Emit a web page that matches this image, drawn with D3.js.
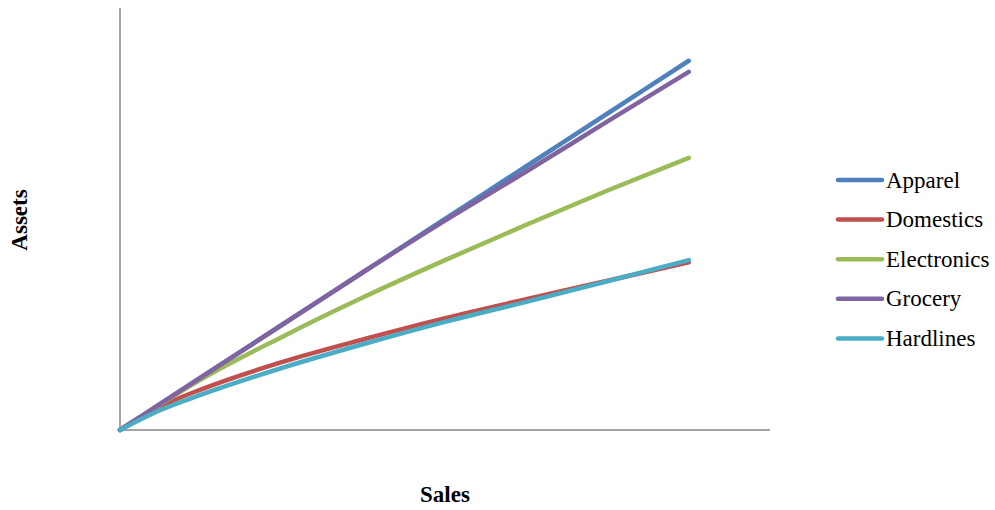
<!DOCTYPE html>
<html>
<head>
<meta charset="utf-8">
<script src="https://cdn.jsdelivr.net/npm/d3@7"></script>
<style>
  body { margin: 0; background: #fff; }
  text { font-family: "Liberation Serif", "Times New Roman", serif; }
</style>
</head>
<body>
<svg id="chart" width="995" height="510"></svg>
<script>
// Sales values (x) shared by every series
const sales = [0, 0.5, 1, 2, 3, 4, 5, 6, 7];
// Asset values per series
const seriesNames = ["Apparel", "Domestics", "Electronics", "Grocery", "Hardlines"];
const apparel = [0, 0.5, 1.0, 2.0, 3.0, 4.0, 5.0, 6.0, 7.0];
const domestics = [0, 0.45, 0.77, 1.29, 1.72, 2.12, 2.48, 2.83, 3.18];
const electronics = [0, 0.49, 0.96, 1.77, 2.52, 3.22, 3.89, 4.54, 5.16];
const grocery = [0, 0.5, 1.0, 2.0, 3.0, 3.97, 4.9, 5.85, 6.79];
const hardlines = [0, 0.38, 0.67, 1.18, 1.63, 2.05, 2.43, 2.82, 3.22];
const colors = ["#4f81bd", "#c0504d", "#9bbb59", "#8064a2", "#4bacc6"];

const values = [apparel, domestics, electronics, grocery, hardlines];

const svg = d3.select("#chart");

// plot area
const x = d3.scaleLinear().domain([0, 8]).range([120, 770]);
const y = d3.scaleLinear().domain([0, 8]).range([430, 8]);

// axes, no ticks
svg.append("line")
    .attr("x1", x(0)).attr("x2", x(0))
    .attr("y1", y(0)).attr("y2", y(8))
    .attr("stroke", "#868686").attr("stroke-width", 1.5);
svg.append("line")
    .attr("x1", x(0)).attr("x2", x(8))
    .attr("y1", y(0)).attr("y2", y(0))
    .attr("stroke", "#868686").attr("stroke-width", 1.5);

const line = d3.line()
    .x(function(d) { return x(d[0]); })
    .y(function(d) { return y(d[1]); })
    .curve(d3.curveMonotoneX);

// one path per series
svg.selectAll("path.series")
    .data(values)
    .enter()
    .append("path")
    .attr("class", "series")
    .attr("d", function(v) {
      return line(sales.map(function(s, i) { return [s, v[i]]; }));
    })
    .attr("fill", "none")
    .attr("stroke", function(d, i) { return colors[i]; })
    .attr("stroke-width", 4.5)
    .attr("stroke-linecap", "round")
    .attr("stroke-linejoin", "round");

// legend
const legend = svg.selectAll("g.legend")
    .data(seriesNames)
    .enter()
    .append("g")
    .attr("class", "legend")
    .attr("transform", function(d, i) {
      return "translate(838," + (180 + i * 39.6) + ")";
    });

legend.append("line")
    .attr("x1", 0).attr("x2", 44)
    .attr("y1", 0).attr("y2", 0)
    .attr("stroke", function(d, i) { return colors[i]; })
    .attr("stroke-width", 4.5)
    .attr("stroke-linecap", "round");

legend.append("text")
    .attr("x", 48)
    .attr("y", 7.5)
    .attr("font-size", 23)
    .text(function(d) { return d; });

// axis titles
svg.append("text")
    .attr("transform", "translate(27,220) rotate(-90)")
    .attr("text-anchor", "middle")
    .attr("font-size", 23)
    .attr("font-weight", "bold")
    .text("Assets");

svg.append("text")
    .attr("x", 445)
    .attr("y", 502)
    .attr("text-anchor", "middle")
    .attr("font-size", 23)
    .attr("font-weight", "bold")
    .text("Sales");
</script>
</body>
</html>
